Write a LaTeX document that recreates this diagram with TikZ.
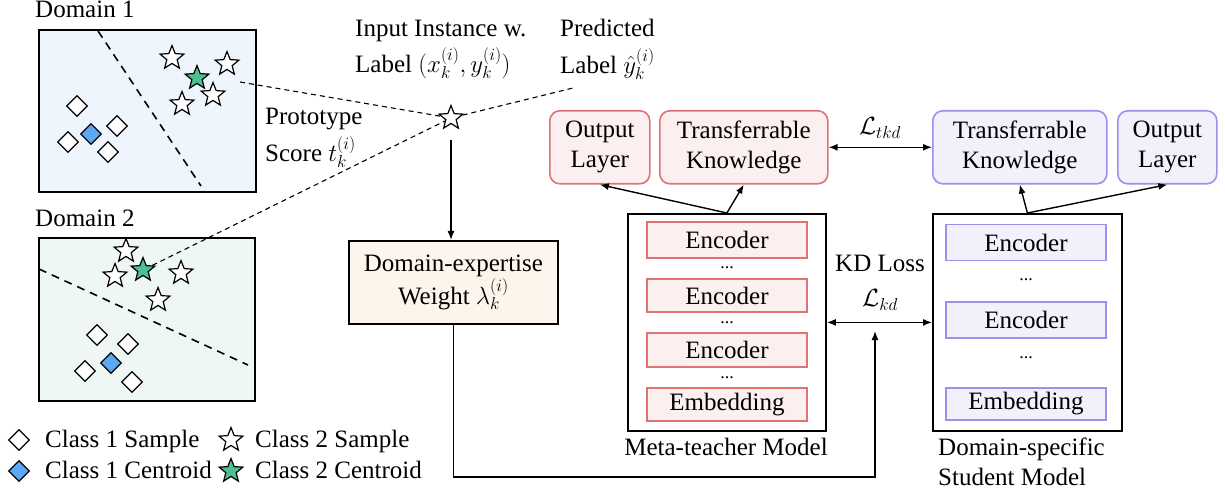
\documentclass[tikz,border=0pt]{standalone}
\usepackage{fontspec}
\setmainfont{Liberation Serif}
\usetikzlibrary{shapes.geometric,arrows.meta}
\definecolor{redb}{HTML}{E07272}
\definecolor{redf}{HTML}{FCEFEF}
\definecolor{purb}{HTML}{9D8FEA}
\definecolor{purf}{HTML}{F2F0FB}
\definecolor{dombf}{HTML}{EEF5FD}
\definecolor{domgf}{HTML}{EEF7F3}
\definecolor{wfill}{HTML}{FDF5EC}
\definecolor{cblue}{HTML}{5BA8F5}
\definecolor{cgreen}{HTML}{4FBF8F}
\tikzset{
  txt/.style={font=\fontsize{25}{30}\selectfont, inner sep=0pt},
  dotsn/.style={font=\fontsize{18}{18}\selectfont, inner sep=0pt},
  rbox/.style={draw=redb, fill=redf, line width=1.6pt, rounded corners=10pt, align=center, font=\fontsize{25}{30}\selectfont, inner sep=0pt},
  pbox/.style={draw=purb, fill=purf, line width=1.6pt, rounded corners=10pt, align=center, font=\fontsize{25}{30}\selectfont, inner sep=0pt},
  rlayer/.style={draw=redb, fill=redf, line width=1.6pt, font=\fontsize{25}{30}\selectfont, inner sep=0pt, minimum width=160pt, minimum height=34pt},
  player/.style={draw=purb, fill=purf, line width=1.6pt, font=\fontsize{25}{30}\selectfont, inner sep=0pt, minimum width=160pt, minimum height=36pt},
  model/.style={draw, line width=1.8pt, inner sep=0pt},
  samp/.style={diamond, draw, line width=1.2pt, minimum size=21pt, inner sep=0pt, fill=white},
  cent/.style={samp, fill=cblue},
  sstar/.style={star, star points=5, star point ratio=2.3, draw, line width=1.2pt, minimum size=25pt, inner sep=0pt, fill=white},
  cstar/.style={sstar, fill=cgreen},
  dash line/.style={dashed, line width=1.1pt, dash pattern=on 5pt off 4pt},
  arr/.style={line width=1.4pt, -{Latex[length=9pt,width=7pt]}},
  darr/.style={line width=1.4pt, {Latex[length=9pt,width=7pt]}-{Latex[length=9pt,width=7pt]}},
  sepline/.style={dashed, line width=1.6pt, dash pattern=on 8pt off 6pt},
}
\begin{document}
\begin{tikzpicture}[x=1pt,y=-1pt]
\useasboundingbox (0,0) rectangle (1225,494);

% Domain 1
\node[txt, anchor=base west] (d1t) at (35,18) {Domain 1};
\node[draw, line width=1.8pt, fill=dombf, minimum width=217pt, minimum height=162pt, inner sep=0pt, anchor=north west] (d1) at (38,29) {};
\draw[sepline] (98,31) -- (201,186);
\node[sstar] (a1) at (172,58) {};
\node[sstar] (a2) at (227,64) {};
\node[sstar] (a4) at (213,95) {};
\node[sstar] (a5) at (182,104) {};
\node[cstar] (ac) at (197,78) {};
\node[samp] (b1) at (77,106) {};
\node[samp] (b2) at (117,126) {};
\node[samp] (b4) at (68,142) {};
\node[samp] (b5) at (108,152) {};
\node[cent] (bc) at (91,134) {};

% Domain 2
\node[txt, anchor=base west] (d2t) at (35,227) {Domain 2};
\node[draw, line width=1.8pt, fill=domgf, minimum width=216pt, minimum height=163pt, inner sep=0pt, anchor=north west] (d2) at (38,237) {};
\draw[sepline] (39,269) -- (248,365);
\node[sstar] (e1) at (126,251) {};
\node[sstar] (e2) at (115,276) {};
\node[sstar] (e4) at (181,273) {};
\node[sstar] (e5) at (158,300) {};
\node[cstar] (ec) at (143,270) {};
\node[samp] (f1) at (97,335) {};
\node[samp] (f2) at (128,344) {};
\node[samp] (f4) at (85,371) {};
\node[samp] (f5) at (132,382) {};
\node[cent] (fc) at (111,363) {};

% Legend
\node[samp] (l1) at (19,440) {};
\node[txt, anchor=base west] at (45,447) {Class 1 Sample};
\node[cent] (l2) at (19,471) {};
\node[txt, anchor=base west] at (45,478) {Class 1 Centroid};
\node[sstar] (l3) at (231,440) {};
\node[txt, anchor=base west] at (255,447) {Class 2 Sample};
\node[cstar] (l4) at (231,471) {};
\node[txt, anchor=base west] at (255,478) {Class 2 Centroid};

% Input instance
\node[sstar] (inp) at (451,118) {};
\coordinate (p1) at (240,82);
\coordinate (pred) at (573,88);
\draw[dash line] (p1) -- (inp);
\draw[dash line] (ec) -- (inp);
\draw[dash line] (inp) -- (pred);
\node[txt, anchor=base west] at (355,37) {Input Instance w.};
\node[txt, anchor=base west] at (355,73) {Label $(x_k^{(i)},y_k^{(i)})$};
\node[txt, anchor=base west] at (560,37) {Predicted};
\node[txt, anchor=base west] at (560,74) {Label $\hat{y}_k^{(i)}$};
\node[txt, anchor=base west] at (265,125) {Prototype};
\node[txt, anchor=base west] at (265,162) {Score $t_k^{(i)}$};

% Domain-expertise weight
\node[draw, line width=1.8pt, fill=wfill, minimum width=209pt, minimum height=83pt, inner sep=0pt, align=center, font=\fontsize{25}{33}\selectfont, anchor=north west] (de) at (348,240) {Domain-expertise\\Weight $\lambda_k^{(i)}$};
\draw[arr] (inp.south |- 0,140) -- (inp.south |- de.north);

% Teacher
\node[model, minimum width=198pt, minimum height=217pt, anchor=north west] (T) at (627,213) {};
\node[rlayer, minimum height=36pt] (te1) at (727,240) {Encoder};
\node[dotsn] at (727,268) {...};
\node[rlayer, minimum height=33pt] (te2) at (727,295.5) {Encoder};
\node[dotsn] at (727,323) {...};
\node[rlayer] (te3) at (727,350) {Encoder};
\node[dotsn] at (727,378) {...};
\node[rlayer, minimum height=33pt] (temb) at (727,404.5) {Embedding};
\node[txt, anchor=base] at (726,455) {Meta-teacher Model};

% Student
\node[model, minimum width=189pt, minimum height=217pt, anchor=north west] (S) at (932,213) {};
\node[player] (se1) at (1026,242.5) {Encoder};
\node[dotsn] at (1026,280) {...};
\node[player] (se2) at (1026,320) {Encoder};
\node[dotsn] at (1026,358) {...};
\node[player, minimum height=32pt] (semb) at (1026,404) {Embedding};
\node[txt, anchor=base west] at (938,455) {Domain-specific};
\node[txt, anchor=base west] at (938,485) {Student Model};

% Top boxes
\node[rbox, minimum width=100pt, minimum height=73pt, anchor=north west] (tol) at (549,110) {Output\\Layer};
\node[rbox, minimum width=168pt, minimum height=73pt, anchor=north west] (ttk) at (659,110) {Transferrable\\Knowledge};
\node[pbox, minimum width=174pt, minimum height=73pt, anchor=north west] (stk) at (932,110) {Transferrable\\Knowledge};
\node[pbox, minimum width=99pt, minimum height=73pt, anchor=north west] (sol) at (1117,110) {Output\\Layer};

\draw[arr] (T.north) -- (tol.south);
\draw[arr] (T.north) -- (ttk.south);
\draw[arr] (S.north) -- (stk.south);
\draw[arr] (S.north) -- (sol.south);

\draw[darr] (ttk.east) -- (stk.west);
\node[txt] at (880,128) {$\mathcal{L}_{tkd}$};

\draw[darr] (T.east) -- (S.west);
\node[txt, anchor=base] at (880,272) {KD Loss};
\node[txt] at (880,300) {$\mathcal{L}_{kd}$};

\coordinate (kdin) at (875,331);
\draw[arr] (de.south) -- (de.south |- 0,477) -| (kdin);
\end{tikzpicture}
\end{document}
